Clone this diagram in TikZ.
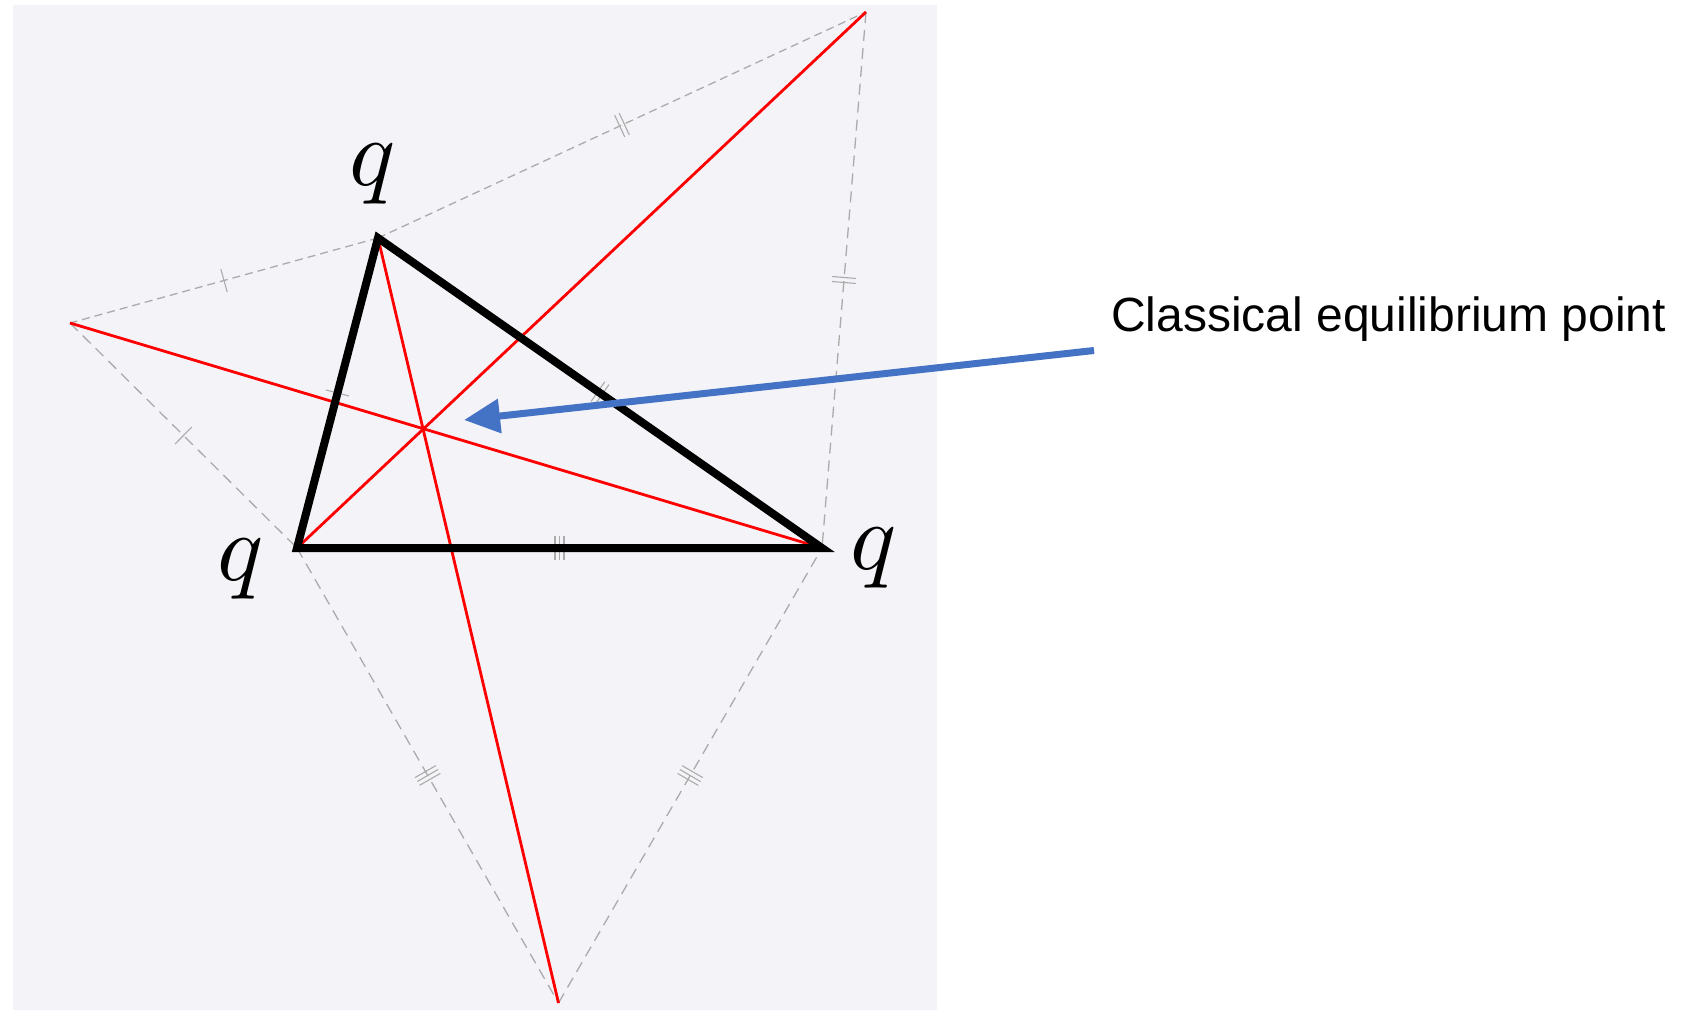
\documentclass[tikz,border=0pt]{standalone}
\usepackage{fontspec}
\usepackage{graphicx}
\newfontfamily\labelfont{Liberation Sans}
\usetikzlibrary{arrows.meta,decorations.markings,calc}
\definecolor{bgc}{HTML}{F4F4F8}
\definecolor{dashc}{HTML}{ABABAB}
\definecolor{arrowc}{HTML}{4472C4}
\begin{document}
\begin{tikzpicture}[x=1pt,y=-1pt,
  dashA/.style={draw=dashc, line width=1.3pt, dash pattern=on 8pt off 5pt},
  dashB/.style={draw=dashc, line width=1.3pt, dash pattern=on 11pt off 7pt},
  tickln/.style={draw=dashc, line width=1.1pt, solid},
  tkone/.style={postaction={decorate,decoration={markings,mark=at position 0.5 with {\draw[tickln] (0pt,-12pt)--(0pt,12pt);}}}},
  tktwo/.style={postaction={decorate,decoration={markings,mark=at position 0.5 with {\draw[tickln] (-2.5pt,-12pt)--(-2.5pt,12pt) (2.5pt,-12pt)--(2.5pt,12pt);}}}},
  tkthree/.style={postaction={decorate,decoration={markings,mark=at position 0.5 with {\draw[tickln] (-4.5pt,-12pt)--(-4.5pt,12pt) (0pt,-12pt)--(0pt,12pt) (4.5pt,-12pt)--(4.5pt,12pt);}}}},
  redln/.style={draw=red, line width=2.8pt},
  tri/.style={draw=black, line width=8pt, line join=miter},
  qlab/.style={inner sep=0pt, anchor=base},
  callout/.style={font=\labelfont\fontsize{48}{56}\selectfont, inner sep=0pt, anchor=base west},
  pointer/.style={draw=arrowc, line width=7pt, -{Triangle[length=36pt,width=33pt]}}
]
% canvas
\fill[white] (0,0) rectangle (1698,1011);
\fill[bgc] (12.5,4.7) rectangle (937.3,1009.5);

% points
\coordinate (A) at (378,238);
\coordinate (B) at (297,548);
\coordinate (C) at (822,548);
\coordinate (L) at (70,323);
\coordinate (T) at (866,12);
\coordinate (D) at (558.5,1003);

% dashed equilateral constructions
\path[dashA, tkone] (A) -- (L);
\path[dashB, tkone] (L) -- (B);
\path[dashA, tktwo] (A) -- (T);
\path[dashB, tktwo] (T) -- (C);
\path[dashB, tkthree] (B) -- (D);
\path[dashB, tkthree] (D) -- (C);

% ticks on the triangle sides
\path[tkone] (A) -- (B);
\path[tktwo] (A) -- (C);
\path[tkthree] (B) -- (C);

% red lines
\draw[redln] (L) -- (C);
\draw[redln] (T) -- (B);
\draw[redln] (D) -- (A);

% triangle
\draw[tri] (A) -- (B) -- (C) -- cycle;

% labels
\node[qlab] (qA) at (372.7,185.5) {\scalebox{9.6}{$q$}};
\node[qlab] (qB) at (240.5,580) {\scalebox{9.6}{$q$}};
\node[qlab] (qC) at (873.5,569.5) {\scalebox{9.6}{$q$}};

% callout
\node[callout] (eqlabel) at (1111,331) {Classical equilibrium point};
\coordinate (tail) at (1094,350.5);
\coordinate (tip) at (464,420);
\draw[pointer] (tail) -- (tip);
\end{tikzpicture}
\end{document}
